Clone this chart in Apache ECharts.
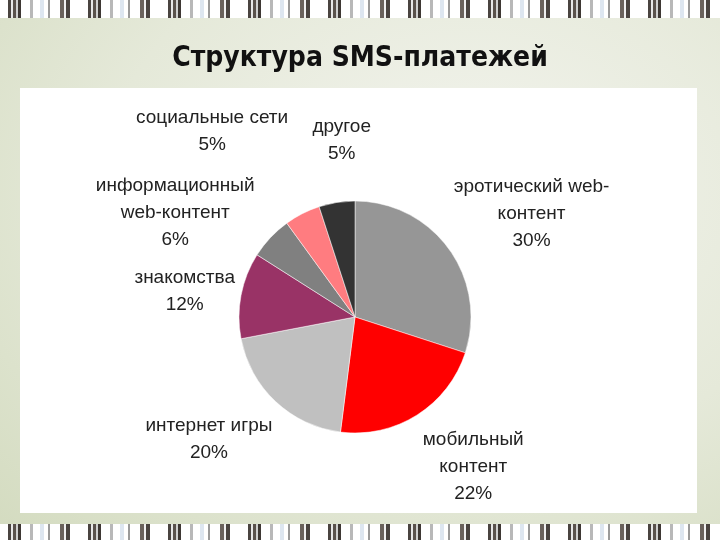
<!DOCTYPE html>
<html>
<head>
<meta charset="utf-8">
<script src="https://cdn.jsdelivr.net/npm/echarts@6/dist/echarts.min.js"></script>
<style>
html,body{margin:0;padding:0;width:720px;height:540px;overflow:hidden;}
body{background:radial-gradient(ellipse at 65% 35%, #f3f4ee 0%, #e5e9d9 55%, #d3dbbf 100%);position:relative;}
.stripes{position:absolute;left:0;width:720px;height:18px;
background:repeating-linear-gradient(90deg,#ffffff 0px,#ffffff 8px,#4a4440 8px,#4a4440 11px,#e8e8e8 11px,#e8e8e8 13px,#5a524c 13px,#5a524c 16px,#d0d0d0 16px,#d0d0d0 18px,#3e3834 18px,#3e3834 21px,#ffffff 21px,#ffffff 30px,#b8b8b8 30px,#b8b8b8 33px,#ffffff 33px,#ffffff 40px,#dde6f0 40px,#dde6f0 44px,#ffffff 44px,#ffffff 48px,#9a9a9a 48px,#9a9a9a 50px,#ffffff 50px,#ffffff 60px,#6a625c 60px,#6a625c 64px,#f0f0f0 64px,#f0f0f0 66px,#4a4440 66px,#4a4440 70px,#ffffff 70px,#ffffff 80px);}
.top{top:0;} .bot{top:524px;height:16px;}
.panel{position:absolute;left:20px;top:88px;width:677px;height:425px;background:#fff;}
#chart{position:absolute;left:0;top:0;width:720px;height:540px;}
</style>
</head>
<body>
<div class="stripes top"></div>
<div class="stripes bot"></div>
<div class="panel"></div>
<div id="chart"></div>
<script>
const categories = ["эротический web-\nконтент","мобильный\nконтент","интернет игры","знакомства","информационный\nweb-контент","социальные сети","другое"];
const values = [30, 22, 20, 12, 6, 5, 5];
const colors = ["#969696","#ff0000","#c0c0c0","#993366","#808080","#ff7c80","#333333"];

// layout/style constants (not data)
const PIE_CENTER = [355, 317];
const PIE_RADIUS = 116;
const LABEL_GAP = 8;
// small per-label nudges mimicking the original's best-fit label placement
const labelNudge = [[6, 21], [19, -7], [-18, -14], [5, 8], [-27, 39], [-60, -23], [11, -23]];

const total = values.reduce((a, b) => a + b, 0);
const midAngles = [];
let acc = 0;
values.forEach(v => { midAngles.push((acc + v / 2) / total * 2 * Math.PI); acc += v; });

const chart = echarts.init(document.getElementById('chart'), null, {renderer:'canvas'});
chart.setOption({
  backgroundColor: 'transparent',
  animation: false,
  title: {
    text: 'Структура SMS-платежей',
    left: 'center', top: 40,
    textStyle: {fontFamily: '"DejaVu Sans Condensed","DejaVu Sans",sans-serif', fontWeight: 'bold', fontSize: 28, color: '#111'}
  },
  series: [{
    type: 'pie',
    center: PIE_CENTER,
    radius: PIE_RADIUS,
    startAngle: 90,
    clockwise: true,
    avoidLabelOverlap: false,
    data: categories.map((c,i)=>({name:c, value:values[i], itemStyle:{color:colors[i]}})),
    label: {
      show: true,
      position: 'outside',
      alignTo: 'none',
      formatter: p => p.name + '\n' + p.value + '%',
      fontFamily: '"Liberation Sans",Arial,sans-serif',
      fontSize: 19,
      lineHeight: 27,
      color: '#222'
    },
    labelLine: {show: false, length: 18, length2: 0},
    labelLayout: function (p) {
      const r = p.labelRect;
      const hw = r.width / 2, hh = r.height / 2;
      const a = midAngles[p.dataIndex];
      const ux = Math.sin(a), uy = -Math.cos(a);
      const d = PIE_RADIUS + LABEL_GAP + hw * Math.abs(ux) + hh * Math.abs(uy);
      const n = labelNudge[p.dataIndex];
      return {
        x: PIE_CENTER[0] + d * ux + n[0],
        y: PIE_CENTER[1] + d * uy + n[1],
        align: 'center', verticalAlign: 'middle'
      };
    },
    itemStyle: {borderColor: '#fff', borderWidth: 0.5}
  }]
});
</script>
</body>
</html>
